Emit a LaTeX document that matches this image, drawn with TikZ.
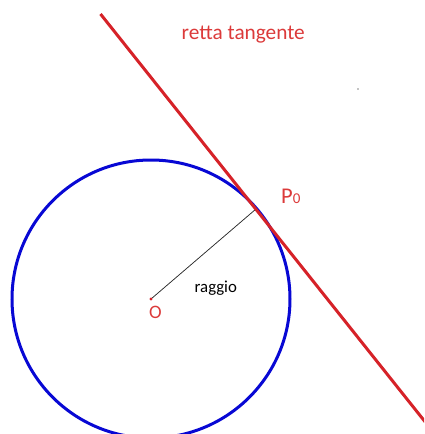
\documentclass[tikz,border=0pt]{standalone}
\usepackage{fontspec}
\setmainfont{Carlito}
\definecolor{linered}{RGB}{214,34,40}
\definecolor{textred}{RGB}{220,58,58}
\definecolor{circblue}{RGB}{8,8,212}
\definecolor{radgray}{RGB}{40,40,40}
\begin{document}
\begin{tikzpicture}[x=1pt,y=-1pt,
  redlabel/.style={text=textred,inner sep=0pt},
  blacklabel/.style={text=black,inner sep=0pt}]
\useasboundingbox (0,0) rectangle (424,434);
\clip (0,0) rectangle (424,434);
\fill[white] (0,0) rectangle (424,434);
\coordinate (O) at (151,299);
\coordinate (P) at (256,209);
\coordinate (T1) at (100.5,14);
\coordinate (T2) at (430,428);
% circle
\draw[circblue,line width=3pt] (O) circle[radius=139];
% radius
\draw[radgray,line width=0.75pt] (O) -- (P);
\fill[linered] (O) circle[radius=1.7];
% tangent
\draw[linered,line width=3pt] (T1) -- (T2);
% labels
\node[redlabel,anchor=base west,font=\fontsize{21.3}{22}\selectfont] (lt) at (181.5,39) {retta tangente};
\node[redlabel,anchor=base west,font=\fontsize{22.5}{23}\selectfont] (lp) at (281,203.5) {P{\fontsize{15}{15}\selectfont 0}};
\node[redlabel,anchor=base west,font=\fontsize{19}{19}\selectfont] (lo) at (149,318.5) {O};
\node[blacklabel,anchor=base west,font=\fontsize{16.8}{17}\selectfont] (lr) at (194.5,292.5) {raggio};
\fill[black] (358,89) circle[radius=0.7];
\end{tikzpicture}
\end{document}
